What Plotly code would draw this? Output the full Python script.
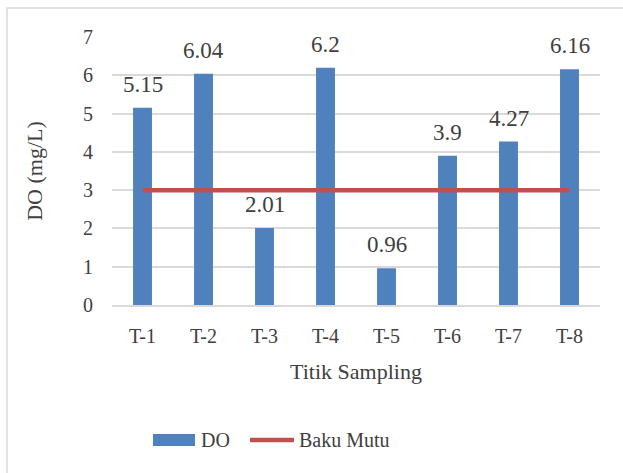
import plotly.graph_objects as go

categories = ["T-1", "T-2", "T-3", "T-4", "T-5", "T-6", "T-7", "T-8"]
do_values = [5.15, 6.04, 2.01, 6.2, 0.96, 3.9, 4.27, 6.16]
baku_mutu = [3, 3, 3, 3, 3, 3, 3, 3]
y_ticks = [0, 1, 2, 3, 4, 5, 6, 7]

FONT = "Liberation Serif"
TXT = "#404040"
BLUE = "#4F81BD"
RED = "#C0504D"

fig = go.Figure()
fig.add_trace(go.Bar(
    x=categories, y=do_values, name="DO",
    marker=dict(color=BLUE, line=dict(width=0)),
    width=0.31, showlegend=False,
))
fig.add_trace(go.Scatter(
    x=categories, y=baku_mutu, name="Baku Mutu", mode="lines",
    line=dict(color=RED, width=4.5), showlegend=False,
))

L, R, T, B = 112, 23, 37, 168
W, H = 623, 473
pw, ph = W - L - R, H - T - B

def px(x):
    return (x - L) / pw

def py(y):
    return 1 - (y - T) / ph

annotations = [
    dict(text=f"{v:g}", x=c, y=v, xref="x", yref="y", xanchor="center", yanchor="bottom",
         yshift=9, showarrow=False, font=dict(family=FONT, size=23, color=TXT))
    for c, v in zip(categories, do_values)
]
annotations += [
    dict(text="DO", xref="paper", yref="paper", x=px(199), y=py(440),
         xanchor="left", yanchor="middle", showarrow=False,
         font=dict(family=FONT, size=20, color=TXT)),
    dict(text="Baku Mutu", xref="paper", yref="paper", x=px(297), y=py(440),
         xanchor="left", yanchor="middle", showarrow=False,
         font=dict(family=FONT, size=20, color=TXT)),
]

fig.update_layout(
    width=W, height=H,
    margin=dict(l=L, r=R, t=T, b=B),
    paper_bgcolor="white", plot_bgcolor="white",
    font=dict(family=FONT, color=TXT, size=20),
    showlegend=False,
    xaxis=dict(
        showgrid=False, showline=True, linecolor="#D9D9D9", linewidth=1.5,
        ticks="", tickfont=dict(family=FONT, size=20, color=TXT), ticklabelstandoff=12,
        title=dict(text="Titik Sampling", font=dict(family=FONT, size=22, color=TXT), standoff=18),
    ),
    yaxis=dict(
        range=[0, 7], tickvals=y_ticks, showgrid=True, gridcolor="#D9D9D9", gridwidth=1.5,
        zeroline=False, showline=False, ticks="",
        tickfont=dict(family=FONT, size=20, color=TXT), ticklabelstandoff=18,
        title=dict(text="DO (mg/L)", font=dict(family=FONT, size=22, color=TXT), standoff=34),
    ),
    shapes=[
        dict(type="rect", xref="paper", yref="paper",
             x0=px(7), x1=px(W + 5), y0=py(H + 5), y1=py(8),
             line=dict(color="#D9D9D9", width=1.5), fillcolor="rgba(0,0,0,0)", layer="below"),
        dict(type="rect", xref="paper", yref="paper",
             x0=px(153), x1=px(195), y0=py(446), y1=py(434),
             line=dict(width=0), fillcolor=BLUE),
        dict(type="line", xref="paper", yref="paper",
             x0=px(250), x1=px(294), y0=py(440), y1=py(440),
             line=dict(color=RED, width=4.5)),
    ],
    annotations=annotations,
)

fig.write_html("out.html", config={"displayModeBar": False},
               post_script="document.body.style.margin='0';")
